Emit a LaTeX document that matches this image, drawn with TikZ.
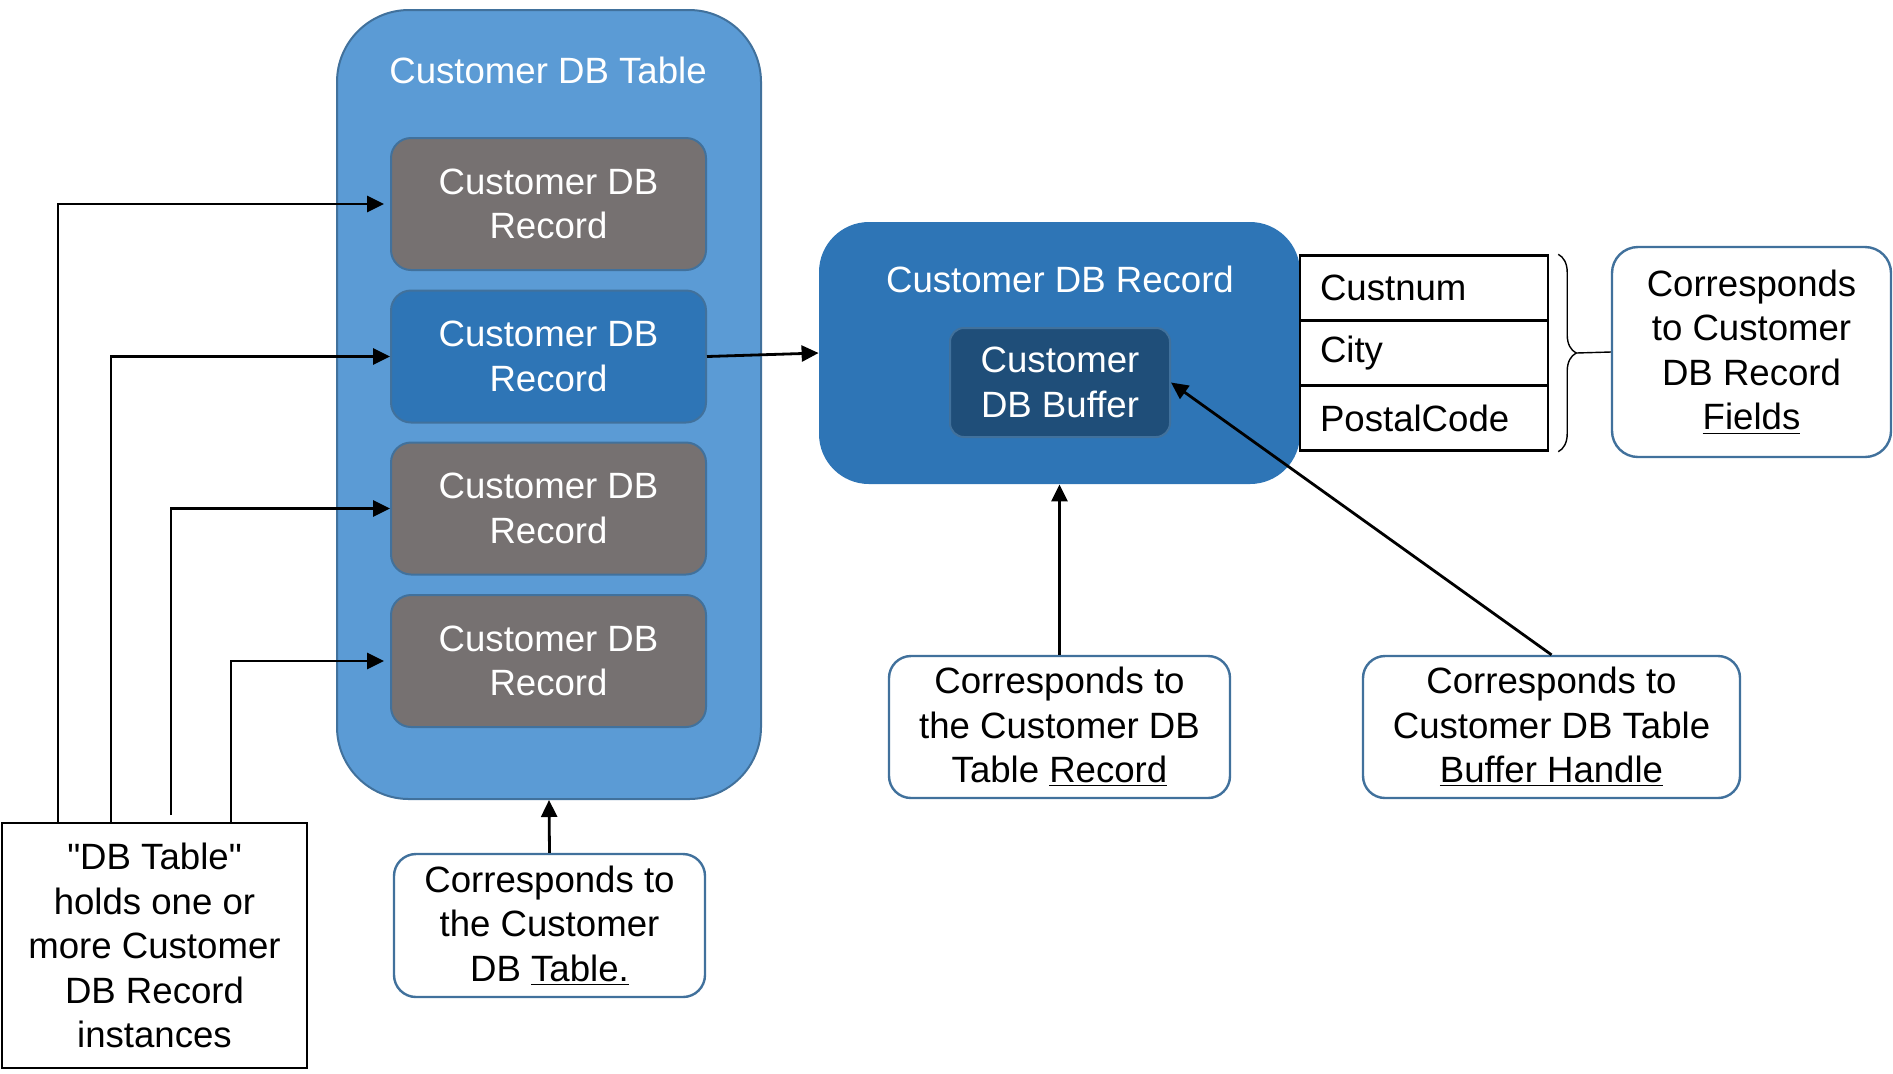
\documentclass[tikz,border=0pt]{standalone}
\usepackage{fontspec}
\setmainfont{Liberation Sans}
\usetikzlibrary{arrows.meta, positioning, calc, decorations.pathreplacing}
\definecolor{tableblue}{RGB}{91,155,213}
\definecolor{edgeblue}{RGB}{65,113,156}
\definecolor{recgray}{RGB}{118,113,113}
\definecolor{recblue}{RGB}{46,117,182}
\definecolor{bufblue}{RGB}{31,78,121}

\begin{document}
\begin{tikzpicture}[x=0.5pt, y=-0.5pt,
    font=\fontsize{18.3}{22.3}\selectfont,
    record/.style={rectangle, rounded corners=10pt, draw=edgeblue, line width=1pt, fill=recgray, text=white, minimum width=157.5pt, minimum height=66pt, align=center},
    note/.style={rectangle, rounded corners=11pt, draw=edgeblue, line width=1.2pt, fill=white, align=center},
    field/.style={rectangle, draw=black, line width=1.2pt, minimum width=124pt, minimum height=32.5pt, inner xsep=10pt, text width=104pt, align=left},
    link/.style={-{Triangle[length=8.5pt, width=8pt]}, line width=1.4pt}
]
    \useasboundingbox (0,0) rectangle (1893,1073);

    % Table with its records
    \node[rectangle, rounded corners=36pt, draw=edgeblue, line width=1pt, fill=tableblue, minimum width=212pt, minimum height=394.5pt] (table) at (549,404.5) {};
    \node[text=white] (tabletitle) at (548,70) {Customer DB Table};
    \node[record] (rec1) at (548.5,204) {Customer DB\\Record};
    \node[record, fill=recblue] (rec2) at (548.5,356.5) {Customer DB\\Record};
    \node[record] (rec3) at (548.5,508.5) {Customer DB\\Record};
    \node[record] (rec4) at (548.5,661) {Customer DB\\Record};

    % Record and buffer
    \node[rectangle, rounded corners=25pt, fill=recblue, minimum width=240.5pt, minimum height=131pt] (recbox) at (1059.5,353) {};
    \node[text=white] (rectitle) at (1060,279) {Customer DB Record};
    \node[rectangle, rounded corners=7pt, draw=edgeblue, line width=1pt, fill=bufblue, text=white, minimum width=110pt, minimum height=54.5pt, align=center] (buffer) at (1060,382.5) {Customer\\DB Buffer};

    % Fields
    \node[field] (f1) at (1424,288) {Custnum};
    \node[field] (f2) at (1424,353) {City};
    \node[field] (f3) at (1424,418) {PostalCode};
    \draw[line width=0.7pt, decorate, decoration={brace, amplitude=9pt}] ($(f1.north east)+(9,0)$) -- ($(f3.south east)+(9,0)$);
    \coordinate (bracetip) at ($(f2.east)+(27,0)$);

    % Notes
    \node[rectangle, draw=black, line width=1pt, minimum width=152.5pt, minimum height=122.5pt, align=center] (lbox) at (154.5,945.5) {\textquotedbl DB Table\textquotedbl\\holds one or\\more Customer\\DB Record\\instances};
    \node[note, minimum width=155.5pt, minimum height=71.5pt] (tblnote) at (549.5,925.5) {Corresponds to\\the Customer\\DB \underline{Table.}};
    \node[note, minimum width=170.5pt, minimum height=71pt] (recnote) at (1059.5,727) {Corresponds to\\the Customer DB\\Table \underline{Record}};
    \node[note, minimum width=188.5pt, minimum height=71pt] (bufnote) at (1551.5,727) {Corresponds to\\Customer DB Table\\\underline{Buffer Handle}};
    \node[note, rounded corners=13pt, minimum width=139.5pt, minimum height=105pt] (fldnote) at (1751.5,352) {Corresponds\\to Customer\\DB Record\\\underline{Fields}};

    % Connectors
    \draw[link, shorten >=3pt] ([xshift=28.5pt]lbox.north west) |- (rec1.west);
    \draw[link] ([xshift=55pt]lbox.north west) |- (rec2.west);
    \draw[link] ([xshift=85pt, yshift=3.5pt]lbox.north west) |- (rec3.west);
    \draw[link, shorten >=3pt] ([xshift=115pt]lbox.north west) |- (rec4.west);
    \draw[link] (rec2.east) -- (recbox.west);
    \draw[link] (tblnote.north) -- (table.south);
    \draw[link] (recnote.north) -- (recbox.south);
    \draw[link] (bufnote.north) -- (buffer.east);
    \draw[line width=0.7pt] (bracetip) -- (fldnote.west);
\end{tikzpicture}
\end{document}
